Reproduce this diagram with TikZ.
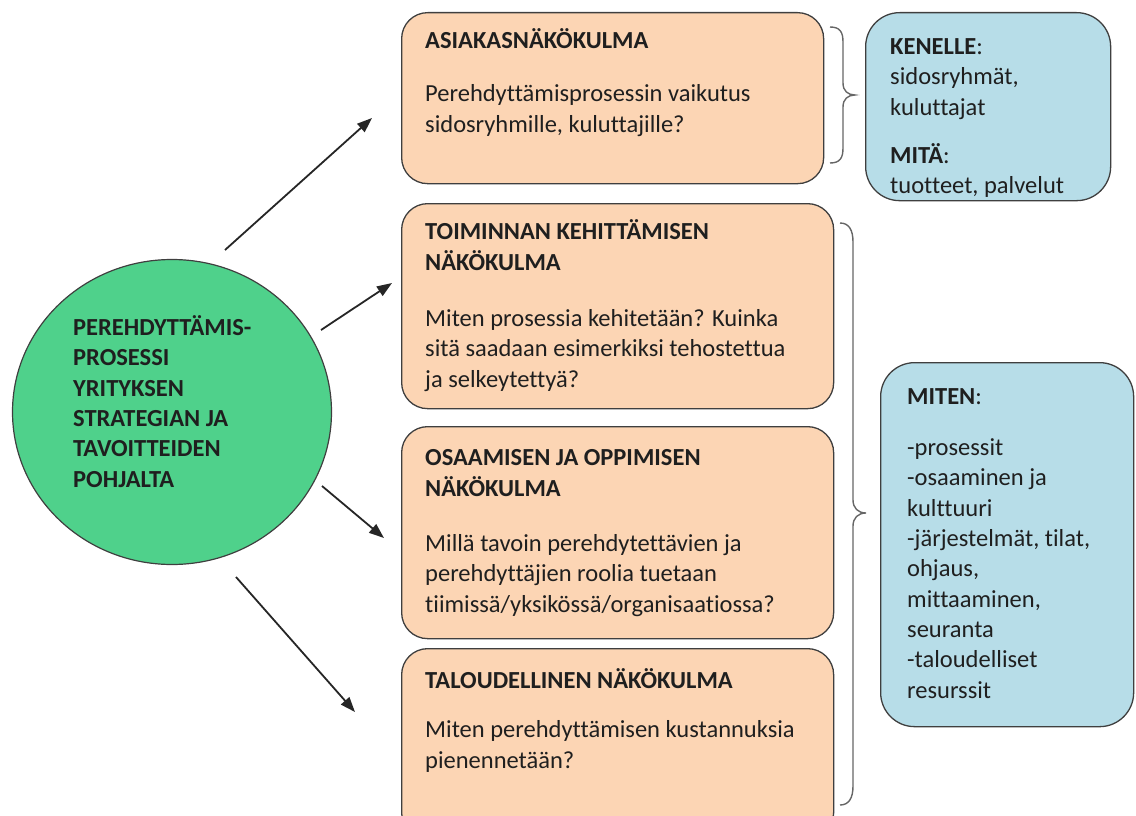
\documentclass[tikz,border=0pt]{standalone}
\usepackage{fontspec}
\setmainfont{Carlito}[Ligatures=NoCommon]
\usetikzlibrary{arrows.meta,shapes.geometric}
\definecolor{orangefill}{HTML}{FCD5B4}
\definecolor{bluefill}{HTML}{B7DDE8}
\definecolor{greenfill}{HTML}{4FD18B}
\definecolor{edgecol}{HTML}{3F3F3F}
\begin{document}
\begin{tikzpicture}[x=1pt,y=-1pt,
  obox/.style={draw=edgecol, line width=1.3pt, fill=orangefill, rounded corners=26pt, anchor=north west, inner sep=0pt},
  bbox/.style={draw=edgecol, line width=1.3pt, fill=bluefill, rounded corners=34pt, anchor=north west, inner sep=0pt},
  txt/.style={anchor=base west, align=left, inner sep=0pt, font=\fontsize{24.5}{30.3}\selectfont, text=black!88},
  hd/.style={txt, font=\fontsize{24.5}{30.3}\selectfont\bfseries},
  arr/.style={line width=1.8pt, draw=black!85, -{Triangle[length=15pt,width=11pt]}},
  bracestyle/.style={draw=black!60, line width=1.4pt}]
\useasboundingbox (0,0) rectangle (1136,816);
\clip (0,0) rectangle (1136,816);

% central circle (multi-line nodes: base anchor = baseline of last line)
\node[ellipse, draw=edgecol, fill=greenfill, line width=1.2pt, minimum width=319pt, minimum height=305pt, inner sep=0pt] (circ) at (172,412) {};
\node[hd] (ctext) at (73,487) {PEREHDYTTÄMIS-\\PROSESSI\\YRITYKSEN\\STRATEGIAN JA\\TAVOITTEIDEN\\POHJALTA};

% orange boxes
\node[obox, minimum width=422pt, minimum height=171pt] (b1) at (401,12) {};
\node[obox, minimum width=432pt, minimum height=205pt] (b2) at (401,203) {};
\node[obox, minimum width=432pt, minimum height=212pt] (b3) at (401,426) {};
\node[obox, minimum width=432pt, minimum height=190pt] (b4) at (401,648) {};

\node[hd] (b1h) at (425,49) {ASIAKASNÄKÖKULMA};
\node[txt] (b1t) at (425,132) {Perehdyttämisprosessin vaikutus\\sidosryhmille, kuluttajille?};

\node[hd] (b2h) at (425,270) {TOIMINNAN KEHITTÄMISEN\\NÄKÖKULMA};
\node[txt] (b2t) at (425,387) {Miten prosessia kehitetään? Kuinka\\sitä saadaan esimerkiksi tehostettua\\ja selkeytettyä?};

\node[hd] (b3h) at (425,496) {OSAAMISEN JA OPPIMISEN\\NÄKÖKULMA};
\node[txt] (b3t) at (425,612) {Millä tavoin perehdytettävien ja\\perehdyttäjien roolia tuetaan\\tiimissä/yksikössä/organisaatiossa?};

\node[hd] (b4h) at (425,688) {TALOUDELLINEN NÄKÖKULMA};
\node[txt] (b4t) at (425,768) {Miten perehdyttämisen kustannuksia\\pienennetään?};

% blue boxes
\node[bbox, minimum width=245pt, minimum height=188pt] (k1) at (865,12) {};
\node[txt] (k1a) at (890,55) {\textbf{KENELLE}:};
\node[txt] (k1b) at (890,115) {sidosryhmät,\\kuluttajat};
\node[txt] (k1c) at (890,163) {\textbf{MITÄ}:};
\node[txt] (k1d) at (890,193) {tuotteet, palvelut};

\node[bbox, minimum width=253pt, minimum height=364pt] (k2) at (880,362) {};
\node[txt] (k2a) at (907,404) {\textbf{MITEN}:};
\node[txt] (k2b) at (907,698) {-prosessit\\-osaaminen ja\\kulttuuri\\-järjestelmät, tilat,\\ohjaus,\\mittaaminen,\\seuranta\\-taloudelliset\\resurssit};

% arrows
\coordinate (a1s) at (225,250); \coordinate (a1e) at (372,118);
\coordinate (a2s) at (321,330); \coordinate (a2e) at (392,283);
\coordinate (a3s) at (322,486); \coordinate (a3e) at (384,538);
\coordinate (a4s) at (236,577); \coordinate (a4e) at (355,712);
\draw[arr] (a1s) -- (a1e);
\draw[arr] (a2s) -- (a2e);
\draw[arr] (a3s) -- (a3e);
\draw[arr] (a4s) -- (a4e);

% braces
\draw[bracestyle] (830,27) .. controls (840,27) and (843,32) .. (843,42) -- (843,83)
  .. controls (843,91) and (848,95) .. (855,95)
  .. controls (848,95) and (843,99) .. (843,107) -- (843,148)
  .. controls (843,158) and (840,163) .. (830,163);
\draw[bracestyle] (840,223) .. controls (849,223) and (853,230) .. (853,242) -- (853,500)
  .. controls (853,508) and (858,513) .. (866,513)
  .. controls (858,513) and (853,518) .. (853,526) -- (853,786)
  .. controls (853,798) and (849,805) .. (840,805);
\end{tikzpicture}
\end{document}
